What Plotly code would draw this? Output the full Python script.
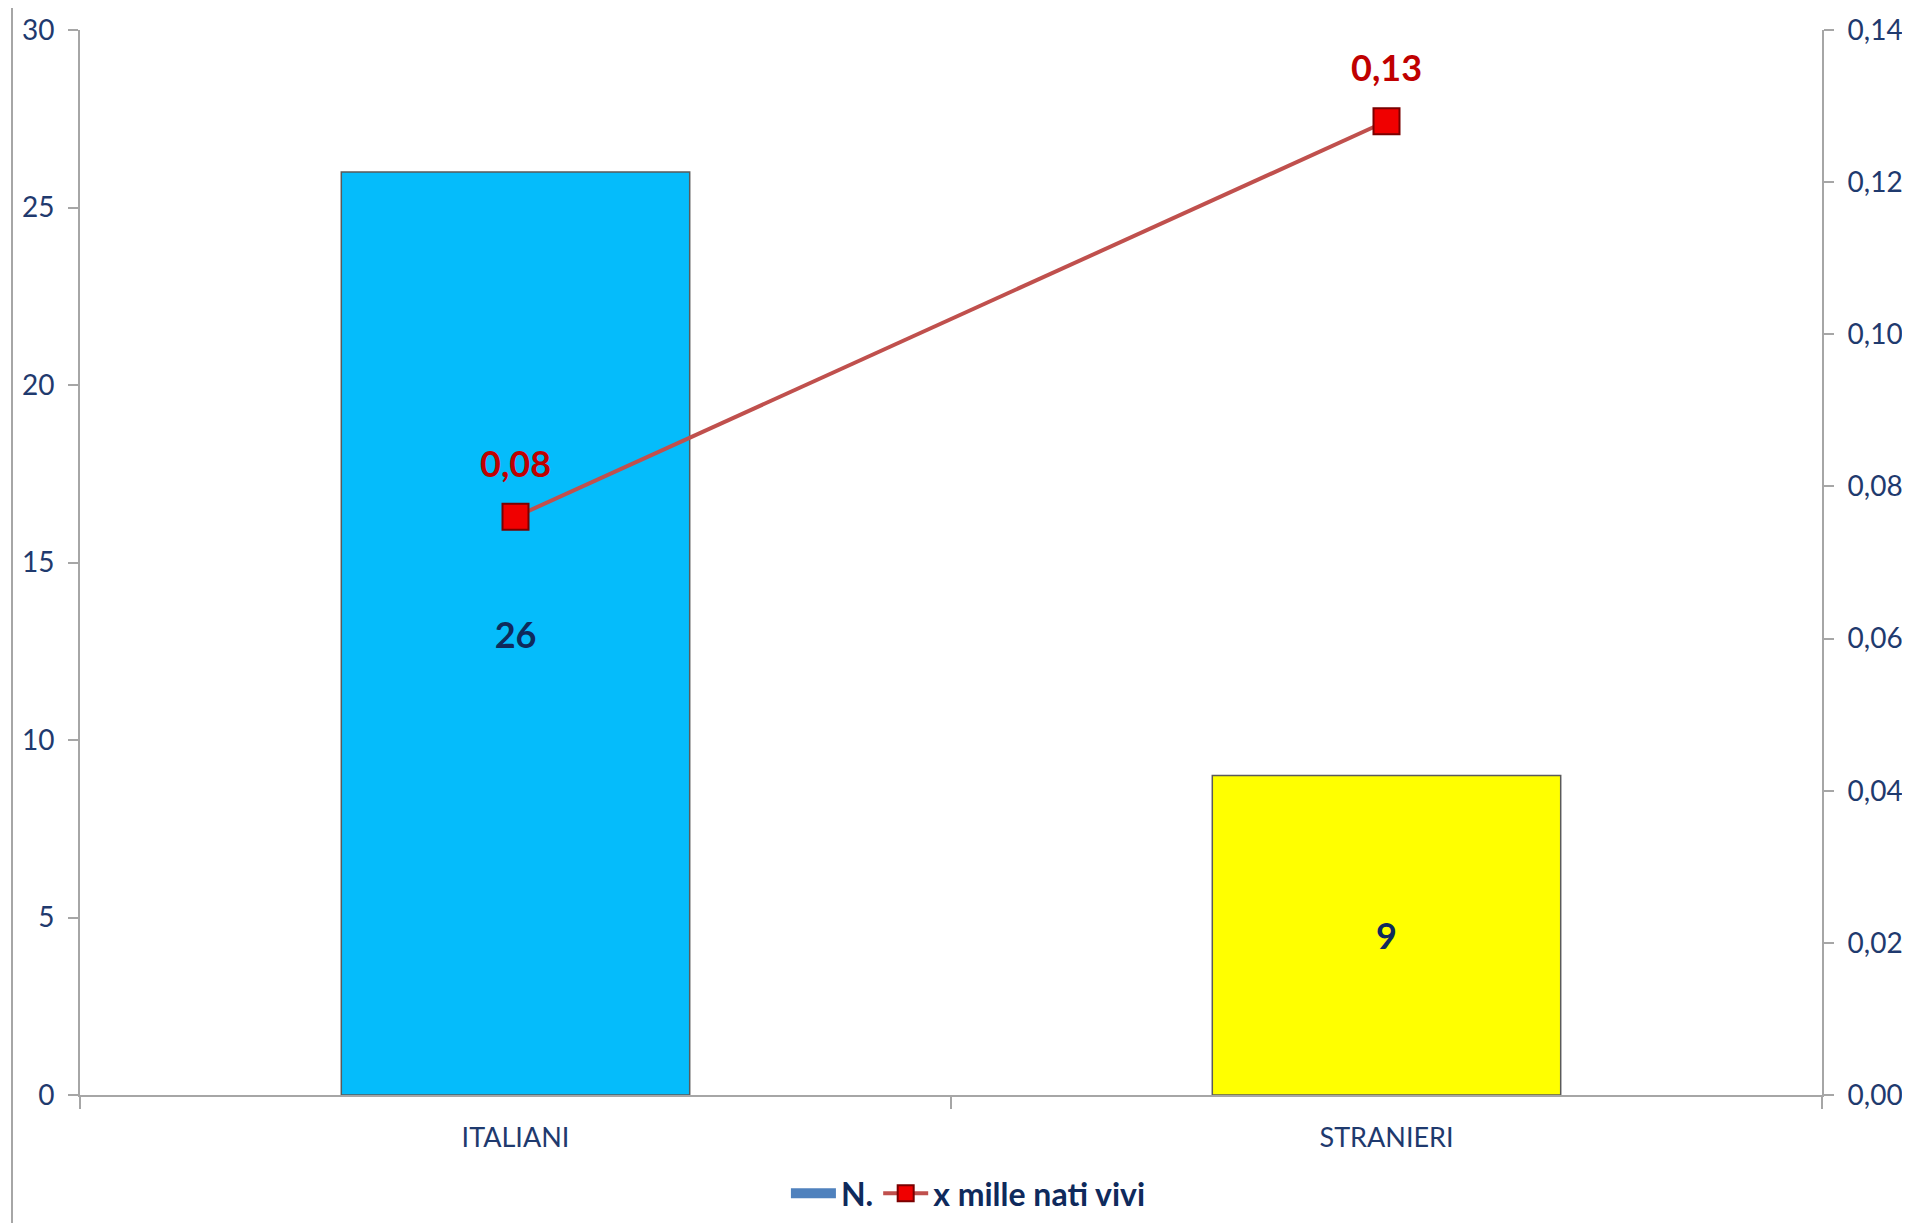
import plotly.graph_objects as go

categories = ["ITALIANI", "STRANIERI"]
counts = [26, 9]
rate = [0.076, 0.128]
rate_labels = ["0,08", "0,13"]
bar_colors = ["#05BCFB", "#FFFF00"]
left_ticks = [0, 5, 10, 15, 20, 25, 30]
right_ticks = [0, 0.02, 0.04, 0.06, 0.08, 0.10, 0.12, 0.14]

FONT = "Lato"
NAVY = "#1F3A6E"
AXIS = "#A6A6A6"

# page body adds an 8px margin; size the figure so the plot lands where the reference has it
W, H = 1894, 1215
L, R, T, B = 72, 80, 22, 128
PH = H - T - B
PW = W - L - R

fig = go.Figure()
fig.add_trace(go.Bar(
    x=categories, y=counts, name="N.",
    marker=dict(color=bar_colors, line=dict(color="#5A5A5A", width=1.5)),
    text=[str(v) for v in counts], textposition="inside",
    insidetextanchor="middle",
    textfont=dict(family=FONT, size=36, color="#0F2A5C", weight="bold"),
    showlegend=False,
))
# legend entry for the bar series: wide blue swatch like the Excel legend
fig.add_trace(go.Scatter(
    x=[None], y=[None], name="<b>N.</b>", mode="lines",
    line=dict(color="#4F81BD", width=18), showlegend=True,
))
fig.add_trace(go.Scatter(
    x=categories, y=rate, name="<b>x mille nati vivi</b>", yaxis="y2",
    mode="lines+markers",
    line=dict(color="#C0504D", width=4),
    marker=dict(symbol="square", size=26, color="#F00000",
                line=dict(color="#7A0000", width=2)),
))

annotations = [
    dict(x=c, y=v, xref="x", yref="y2", text=f"<b>{t}</b>", showarrow=False,
         yshift=54, font=dict(family=FONT, size=36, color="#C00000"))
    for c, v, t in zip(categories, rate, rate_labels)
]

fig.update_layout(
    width=W, height=H,
    paper_bgcolor="white", plot_bgcolor="white",
    margin=dict(l=L, r=R, t=T, b=B, autoexpand=False),
    bargap=0.6,
    separators=",.",
    font=dict(family=FONT, color=NAVY),
    showlegend=True,
    legend=dict(orientation="h", x=0.51, xanchor="center",
                y=-(B - 2) / PH, yanchor="bottom",
                font=dict(family=FONT, size=32, color="#0F2A5C"),
                traceorder="normal", itemwidth=45),
    annotations=annotations,
    xaxis=dict(
        showline=True, linecolor=AXIS, linewidth=2,
        ticks="outside", tickson="boundaries", ticklen=12, tickcolor=AXIS, tickwidth=2,
        tickfont=dict(family=FONT, size=27, color=NAVY),
        ticklabelstandoff=18,
        showgrid=False, zeroline=False, automargin=False,
    ),
    yaxis=dict(
        range=[0, 30], tickvals=left_ticks,
        showline=True, linecolor=AXIS, linewidth=2,
        ticks="outside", ticklen=10, tickcolor=AXIS, tickwidth=2,
        tickfont=dict(family=FONT, size=28, color=NAVY),
        ticklabelstandoff=8,
        showgrid=False, zeroline=False, automargin=False,
    ),
    yaxis2=dict(
        range=[0, 0.14], tickvals=right_ticks, tickformat=".2f",
        overlaying="y", side="right",
        showline=True, linecolor=AXIS, linewidth=2,
        ticks="outside", ticklen=10, tickcolor=AXIS, tickwidth=2,
        tickfont=dict(family=FONT, size=28, color=NAVY),
        ticklabelstandoff=8,
        showgrid=False, zeroline=False, automargin=False,
    ),
    shapes=[dict(type="line", xref="paper", yref="paper",
                 x0=-68 / PW, x1=-68 / PW, y0=-B / PH, y1=1 + T / PH,
                 line=dict(color="#A6A6A6", width=2))],
)

fig.write_html("out.html")
